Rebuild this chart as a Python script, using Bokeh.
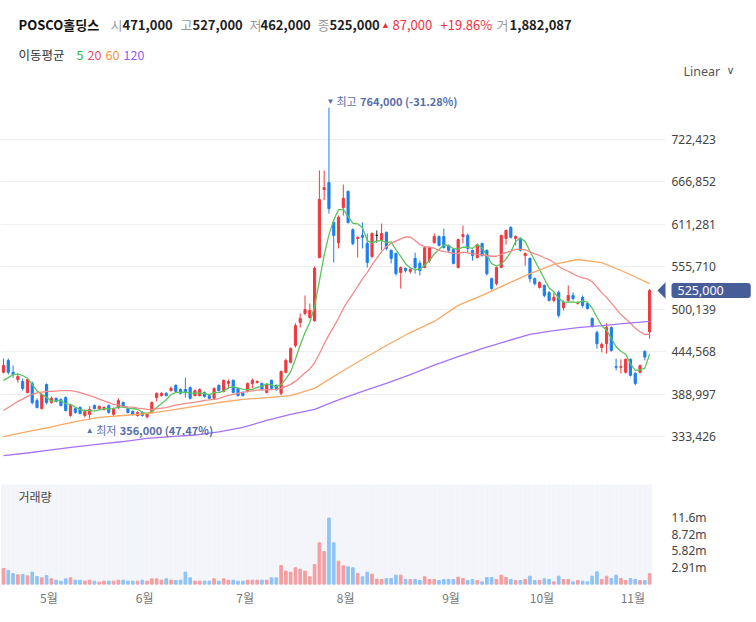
import numpy as np
import pandas as pd
from bokeh.plotting import figure
from bokeh.layouts import column
from bokeh.models import (ColumnDataSource, Range1d, FixedTicker, NumeralTickFormatter, Label)
from bokeh.core.properties import value
from bokeh.embed import file_html
from bokeh.resources import INLINE

KFONT = "Noto Sans CJK KR"
NFONT = "Noto Sans"

stock_name = "POSCO홀딩스"

# daily OHLC (thousand won), 2023-04-17 .. 2023-11-06
open_k = [
    418, 433.5, 418, 408.5, 406, 391.5, 403.5, 381, 370.5, 402,
    378.5, 384, 382.5, 385, 361.5, 370.5, 372, 361.5, 363, 374.5,
    370.5, 369.5, 374.5, 363, 372, 378.5, 370.5, 367, 361.5, 365.5,
    360, 365.5, 385, 387.5, 390.5, 394, 401, 395.5, 395.5, 398,
    387.5, 387.5, 391.5, 387.5, 384, 401, 393, 403.5, 407.5, 397,
    391.5, 393, 403.5, 404.5, 403.5, 391.5, 407.5, 401, 390.5, 418,
    431, 453, 483, 495, 489.5, 485.5, 568, 657, 666, 614,
    587.5, 633.5, 654.5, 604.5, 593, 597, 586.5, 569.5, 597, 590.5,
    601, 577.5, 573.5, 548.5, 554, 550, 567, 560.5, 555, 564,
    587.5, 595.5, 595.5, 584, 578.5, 555, 595.5, 597, 577.5, 568,
    586.5, 577.5, 540.5, 534, 555, 593, 607.5, 593, 593, 570.5,
    567, 540.5, 529, 531.5, 522.5, 512, 522.5, 502.5, 512, 518.5,
    508, 516, 508, 488.5, 470, 450.5, 455.5, 476.5, 425.5, 424.5,
    418, 435, 416.5, 418, 445.5, 471]
high_k = [
    436, 436, 427, 416.5, 410, 410, 406, 384, 390.5, 403.5,
    386.5, 385, 384, 386.5, 376, 372, 373.5, 369.5, 373.5, 376,
    374.5, 373.5, 376, 372, 384, 380, 372, 368, 367, 367,
    365.5, 380, 391.5, 392, 392, 399.5, 402, 397, 411, 399.5,
    395.5, 397, 393, 389, 398, 402, 408.5, 408.5, 408.5, 398,
    393, 404.5, 410, 407.5, 404.5, 403.5, 408.5, 402, 420.5, 436,
    450.5, 482, 495, 518.5, 508, 556.5, 682, 682, 764, 617,
    623, 663.5, 656, 606, 595.5, 614, 599.5, 601, 603.5, 612.5,
    602, 578.5, 574.5, 556.5, 555, 554, 574.5, 564, 582.5, 582.5,
    599.5, 597, 606, 585, 580, 593, 610, 599.5, 578.5, 586.5,
    587.5, 578.5, 542, 556.5, 598, 604.5, 609, 597, 594.5, 574.5,
    568, 542, 537, 533, 524, 522.5, 525, 512, 531.5, 522.5,
    511, 518.5, 509.5, 489.5, 472.5, 457, 482, 478, 436, 435,
    436, 436, 418, 428, 446.5, 527]
low_k = [
    416.5, 415, 411, 404.5, 394, 390.5, 376, 370.5, 369.5, 376,
    377, 378.5, 373.5, 367, 360, 364, 363, 359, 356, 369.5,
    369.5, 368, 364, 360, 369.5, 372, 364, 361.5, 360, 360,
    357.5, 364, 380, 386.5, 386.5, 393, 391.5, 389, 385, 382.5,
    386.5, 386.5, 385, 382.5, 382.5, 393, 391.5, 397, 390.5, 386.5,
    386.5, 391.5, 397, 403.5, 394, 390.5, 395.5, 394, 388, 416.5,
    429.5, 450.5, 476.5, 492.5, 488.5, 484, 567, 643, 625.5, 561.5,
    580, 623, 612.5, 584, 568, 580, 555, 567, 587.5, 577.5,
    577.5, 560.5, 544.5, 527.5, 548.5, 547, 547, 544.5, 554, 561.5,
    586.5, 582.5, 580, 574.5, 559, 554, 586.5, 574.5, 564, 567,
    569.5, 544.5, 526, 531.5, 554, 585, 593, 584, 576, 557.5,
    535.5, 531.5, 527.5, 516, 510.5, 509.5, 489.5, 499, 509.5, 512,
    506.5, 502.5, 500, 476.5, 449, 444, 442.5, 445, 420.5, 416.5,
    416.5, 412.5, 401, 416.5, 433.5, 462]
close_k = [
    427, 418, 415, 412.5, 397, 408.5, 378.5, 372, 389, 378.5,
    384, 380, 374.5, 368, 374.5, 365.5, 364, 367, 369.5, 370.5,
    373.5, 372, 365.5, 370.5, 381, 373.5, 365.5, 363, 365.5, 361.5,
    364, 378.5, 390.5, 390.5, 387.5, 397, 393, 390.5, 391.5, 384,
    394, 395.5, 386.5, 384, 397, 394, 407.5, 406, 391.5, 387.5,
    387.5, 403.5, 407.5, 406, 395.5, 402, 397, 395.5, 419, 433.5,
    449, 479, 488.5, 500, 499, 554, 644, 659.5, 632, 597,
    620.5, 645.5, 614, 586.5, 594.5, 594.5, 561.5, 599.5, 597, 599.5,
    580, 567, 547, 555, 551, 552.5, 555, 551, 581, 581,
    595.5, 584, 581, 577.5, 560.5, 591.5, 598, 580, 570.5, 585,
    570.5, 547, 527.5, 555, 597, 603.5, 594.5, 595.5, 577.5, 573.5,
    540.5, 534, 535.5, 518.5, 512, 516, 492.5, 509.5, 518.5, 514.5,
    509.5, 505.5, 501.5, 478, 455.5, 454.5, 476.5, 446.5, 424.5, 425.5,
    435, 414, 403.5, 427, 438, 525]
# daily volume (shares)
volume = [
    2770000, 2420000, 1900000, 1670000, 1730000, 1500000, 2130000, 1380000, 1150000, 1560000,
    980000, 750000, 580000, 980000, 1150000, 750000, 750000, 580000, 750000, 580000,
    400000, 580000, 580000, 580000, 750000, 750000, 580000, 580000, 580000, 750000,
    580000, 980000, 980000, 750000, 980000, 750000, 690000, 750000, 2130000, 1150000,
    580000, 580000, 580000, 580000, 980000, 580000, 980000, 750000, 750000, 580000,
    580000, 750000, 750000, 750000, 750000, 750000, 1150000, 1150000, 3290000, 2310000,
    2130000, 2890000, 2650000, 2310000, 1330000, 3460000, 7210000, 5710000, 11500000, 7210000,
    4040000, 3230000, 3060000, 2890000, 1900000, 1330000, 2130000, 1790000, 920000, 870000,
    1040000, 1040000, 1620000, 1620000, 870000, 870000, 870000, 690000, 1330000, 870000,
    870000, 690000, 870000, 870000, 870000, 1270000, 1040000, 690000, 870000, 690000,
    460000, 1210000, 1210000, 870000, 1620000, 1210000, 870000, 690000, 690000, 870000,
    1440000, 690000, 690000, 980000, 870000, 460000, 1440000, 870000, 870000, 460000,
    690000, 580000, 460000, 1440000, 2190000, 870000, 1440000, 1040000, 1620000, 1040000,
    690000, 1040000, 870000, 690000, 690000, 1882087]

# moving averages: values before enough history exists
ma5_first = [407500, 411000, 415000, 415500]
ma20_first = [368000, 372000, 376000, 380000, 383000, 386500, 389000, 391000, 392000,
              393000, 393000, 393500, 394000, 394000, 394000, 393000, 391500, 389500, 387500]
ma_sample_index = list(range(0, 136, 5))
ma60_sampled = [334000, 340500, 346500, 353500, 359000, 361500, 364000, 368500, 373500, 378500,
                382500, 385000, 387500, 397000, 416500, 435000, 453000, 470000, 484500, 505500,
                518500, 533000, 547000, 559000, 565500, 561500, 548500, 534000]
ma120_sampled = [309000, 312500, 316500, 320500, 324000, 327500, 331500, 334000, 336000, 340000,
                 346000, 355000, 363000, 369500, 382000, 393000, 403500, 415000, 427500, 438500,
                 449000, 458500, 467500, 472500, 476500, 479000, 482000, 484500]

month_labels = ["5월", "6월", "7월", "8월", "9월", "10월", "11월"]
month_first_index = [10, 30, 51, 72, 94, 113, 132]

price_ticks = [333426, 388997, 444568, 500139, 555710, 611281, 666852, 722423]
volume_ticks = [2908000, 5816000, 8724000, 11632000]
volume_tick_labels = ["2.91m", "5.82m", "8.72m", "11.6m"]

# ---------------------------------------------------------------------------
o = np.array(open_k) * 1000
h = np.array(high_k) * 1000
l = np.array(low_k) * 1000
c = np.array(close_k) * 1000
v = np.array(volume, dtype=float)
n = len(c)
assert all(len(a) == n for a in (o, h, l, v)), [len(a) for a in (o, h, l, c, v)]
idx = np.arange(n)

RED = "#ee3a3f"
BLUE = "#1b7ff0"
body_color = np.where(c > o, RED, np.where(c < o, BLUE, "#222222"))
vol_color = np.where(c >= o, "#f49ea1", "#8ec3f6")

ma5 = pd.Series(c).rolling(5).mean().to_numpy()
ma5[:4] = ma5_first
ma20 = pd.Series(c).rolling(20).mean().to_numpy()
ma20[:19] = ma20_first

src = ColumnDataSource(dict(x=idx, o=o, h=h, l=l, c=c,
                            top=np.maximum(o, c), bottom=np.minimum(o, c),
                            color=body_color, v=v, vcolor=vol_color,
                            ma5=ma5, ma20=ma20))

FRAME_W = 665
BORDER_R = 756 - FRAME_W
xr = Range1d(-0.627, 138.32)


def px_to_x(px):
    return xr.start + px / FRAME_W * (xr.end - xr.start)


# ---------------- header ----------------
ph = figure(width=756, height=88, x_range=Range1d(0, FRAME_W), y_range=Range1d(88, 0),
            output_backend="svg", toolbar_location=None,
            x_axis_location=None, y_axis_location=None,
            min_border_left=0, min_border_right=BORDER_R, min_border_top=0, min_border_bottom=0)
ph.outline_line_color = None
ph.grid.grid_line_color = None

chg = c[-1] - c[-2]
chg_pct = chg / c[-2] * 100
bold_items = [(stock_name, 18, "#111111"), (f"{int(o[-1]):,}", 122, "#222222"),
              (f"{int(h[-1]):,}", 192, "#222222"), (f"{int(l[-1]):,}", 260, "#222222"),
              (f"{int(c[-1]):,}", 329, "#222222"), (f"{int(v[-1]):,}", 509, "#222222")]
ph.text(x=[b[1] for b in bold_items], y=[24] * len(bold_items), text=[b[0] for b in bold_items],
        text_color=[b[2] for b in bold_items], text_font=value(KFONT), text_font_size="13px",
        text_font_style="bold", text_baseline="middle", text_align="left")
grey_items = [("시", 110), ("고", 180), ("저", 249), ("종", 317), ("거", 496)]
ph.text(x=[g[1] for g in grey_items], y=[24] * len(grey_items), text=[g[0] for g in grey_items],
        text_color="#999999", text_font=value(KFONT), text_font_size="13px",
        text_baseline="middle", text_align="left")
ph.text(x=[385], y=[24], text=["▲"], text_color="#f0323c", text_font=value(NFONT),
        text_font_size="9px", text_baseline="middle", text_align="center")
ph.text(x=[392, 440], y=[24, 24], text=[f"{int(chg):,}", f"+{chg_pct:.2f}%"],
        text_color="#f0323c", text_font=value(KFONT), text_font_size="13px",
        text_baseline="middle", text_align="left")
legend_items = [("이동평균", 18, "#333333"), ("5", 76, "#2eb52e"), ("20", 87, "#f0506a"),
                ("60", 105, "#f59540"), ("120", 123, "#9a5af5")]
ph.text(x=[a[1] for a in legend_items], y=[54] * len(legend_items), text=[a[0] for a in legend_items],
        text_color=[a[2] for a in legend_items], text_font=value(KFONT), text_font_size="12.5px",
        text_baseline="middle", text_align="left")
# scale selector, drawn in the right border panel (side-panel labels are not clipped)
ph.add_layout(Label(x=683, y=71, text="Linear", text_color="#555555", text_font=NFONT,
                    text_font_size="12.5px", text_baseline="middle", text_align="left"), "right")
ph.add_layout(Label(x=730, y=70, text="∨", text_color="#555555", text_font="DejaVu Sans",
                    text_font_size="11px", text_baseline="middle", text_align="center"), "right")

# ---------------- price ----------------
P_BOTTOM_BORDER = 22
P_FRAME_H = 392 - P_BOTTOM_BORDER
WON_PER_PX = 1307.6
y_top_value = 789110
yr = Range1d(y_top_value - WON_PER_PX * P_FRAME_H, y_top_value)
p = figure(width=756, height=392, x_range=xr, y_range=yr, output_backend="svg",
           toolbar_location=None, x_axis_location=None, y_axis_location="right",
           min_border_left=0, min_border_right=BORDER_R, min_border_top=0,
           min_border_bottom=P_BOTTOM_BORDER)
p.outline_line_color = None
p.xgrid.grid_line_color = None
p.ygrid.ticker = FixedTicker(ticks=price_ticks)
p.ygrid.grid_line_color = "#efefef"
ax = p.yaxis[0]
ax.ticker = FixedTicker(ticks=price_ticks)
ax.formatter = NumeralTickFormatter(format="0,0")
ax.axis_line_color = None
ax.major_tick_line_color = None
ax.minor_tick_line_color = None
ax.major_tick_out = 0
ax.major_tick_in = 0
ax.major_label_standoff = 6
ax.major_label_text_font = NFONT
ax.major_label_text_font_size = "12px"
ax.major_label_text_color = "#444444"

p.segment(x0="x", y0="l", x1="x", y1="h", source=src, line_color="color", line_width=1)
p.vbar(x="x", width=0.45, top="top", bottom="bottom", source=src,
       fill_color="color", line_color="color", line_width=1)

p.line(x="x", y="ma5", source=src, line_color="#5cc55c", line_width=1.3)
p.line(x="x", y="ma20", source=src, line_color="#f38a8a", line_width=1.3)
p.line(x=ma_sample_index, y=ma60_sampled, line_color="#f6aa66", line_width=1.3)
p.line(x=ma_sample_index, y=ma120_sampled, line_color="#a673f3", line_width=1.3)

hi_i = int(np.argmax(h))
lo_i = int(np.argmin(l))
hi_pct = (c[-1] / h[hi_i] - 1) * 100
lo_pct = (c[-1] / l[lo_i] - 1) * 100
ANN = "#5a6ea6"
p.text(x=[hi_i], y=[h[hi_i]], text=["▼"], x_offset=1.5, y_offset=-7, text_color=ANN,
       text_font=value(NFONT), text_font_size="8px", text_baseline="middle", text_align="center")
p.text(x=[hi_i], y=[h[hi_i]], text=["최고"], x_offset=7.5, y_offset=-7, text_color=ANN,
       text_font=value(KFONT), text_font_size="11px", text_baseline="middle", text_align="left")
p.text(x=[hi_i], y=[h[hi_i]], text=[f"{int(h[hi_i]):,} ({hi_pct:.2f}%)"], x_offset=31, y_offset=-7,
       text_color=ANN, text_font=value(KFONT), text_font_size="11px", text_font_style="bold",
       text_baseline="middle", text_align="left")
p.text(x=[lo_i], y=[l[lo_i]], text=["▲"], x_offset=0, y_offset=10, text_color=ANN,
       text_font=value(NFONT), text_font_size="8px", text_baseline="middle", text_align="center")
p.text(x=[lo_i], y=[l[lo_i]], text=["최저"], x_offset=6.5, y_offset=10, text_color=ANN,
       text_font=value(KFONT), text_font_size="11px", text_baseline="middle", text_align="left")
p.text(x=[lo_i], y=[l[lo_i]], text=[f"{int(l[lo_i]):,} ({lo_pct:.2f}%)"], x_offset=30, y_offset=10,
       text_color=ANN, text_font=value(KFONT), text_font_size="11px", text_font_style="bold",
       text_baseline="middle", text_align="left")

# last price tag: pointer inside the frame, label box in the bottom border panel (not clipped)
BADGE = "#475d98"
half = 9.3 * WON_PER_PX
p.patch(x=[px_to_x(657), px_to_x(666), px_to_x(666)], y=[c[-1], c[-1] + half, c[-1] - half],
        fill_color=BADGE, line_color=None)
p.add_layout(Label(x=px_to_x(671), y=c[-1], text=f"{int(c[-1]):,}",
                   text_color="white", text_font=NFONT, text_font_size="12.5px",
                   text_baseline="middle", text_align="left",
                   background_fill_color=BADGE, background_fill_alpha=1.0,
                   padding=dict(left=6, right=27, top=3, bottom=3), border_radius=3), "below")

# ---------------- volume ----------------
vmax = 17.31e6
pv = figure(width=756, height=142, x_range=xr, y_range=Range1d(0, vmax), output_backend="svg",
            toolbar_location=None, y_axis_location="right", x_axis_location="below",
            min_border_left=0, min_border_right=BORDER_R, min_border_top=4, min_border_bottom=38)
pv.outline_line_color = None
pv.xgrid.grid_line_color = None
pv.ygrid.grid_line_color = None
pv.vbar(x=idx, width=0.8, top=vmax, bottom=0, color="#f3f5fa")
pv.vbar(x="x", width=0.55, top="v", bottom=0, source=src, color="vcolor")

vax = pv.yaxis[0]
vax.ticker = FixedTicker(ticks=volume_ticks)
vax.major_label_overrides = {t: s for t, s in zip(volume_ticks, volume_tick_labels)}
vax.axis_line_color = None
vax.major_tick_line_color = None
vax.minor_tick_line_color = None
vax.major_tick_out = 0
vax.major_tick_in = 0
vax.major_label_standoff = 6
vax.major_label_text_font = NFONT
vax.major_label_text_font_size = "12px"
vax.major_label_text_color = "#444444"

month_ticks = [i - 0.5 for i in month_first_index]
xax = pv.xaxis[0]
xax.ticker = FixedTicker(ticks=month_ticks)
xax.major_label_overrides = {t: s for t, s in zip(month_ticks, month_labels)}
xax.axis_line_color = None
xax.major_tick_line_color = None
xax.minor_tick_line_color = None
xax.major_tick_out = 0
xax.major_tick_in = 0
xax.major_label_standoff = 4
xax.major_label_text_font = KFONT
xax.major_label_text_font_size = "12px"
xax.major_label_text_color = "#777777"

pv.add_layout(Label(x=18, y=88, x_units="screen", y_units="screen", text="거래량",
                    text_color="#444444", text_font=KFONT, text_font_size="12px",
                    text_baseline="middle", text_align="left"))

layout = column(ph, p, pv)
open("out.html", "w").write(file_html(layout, INLINE))
